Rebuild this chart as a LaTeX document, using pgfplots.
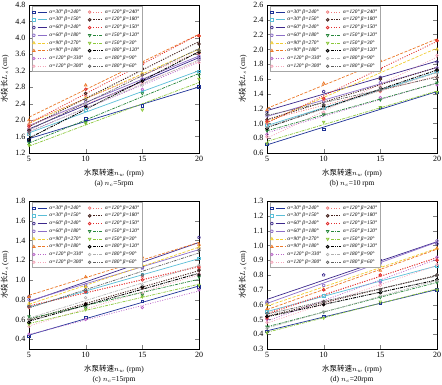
\documentclass[border=0pt]{standalone}
\usepackage{fontspec}
\setmainfont{Liberation Serif}
\newfontfamily\cjk{Noto Sans CJK SC}
\usepackage{pgfplots}
\usepackage{pgfplotstable}
\pgfplotsset{compat=1.18}

\definecolor{c1}{RGB}{30,50,150}
\definecolor{c2}{RGB}{90,190,215}
\definecolor{c3}{RGB}{60,40,140}
\definecolor{c4}{RGB}{140,110,200}
\definecolor{c5}{RGB}{240,205,50}
\definecolor{c6}{RGB}{235,120,40}
\definecolor{c7}{RGB}{185,100,200}
\definecolor{c8}{RGB}{245,165,185}
\definecolor{c9}{RGB}{240,120,120}
\definecolor{c10}{RGB}{70,35,30}
\definecolor{c11}{RGB}{225,45,45}
\definecolor{c12}{RGB}{40,135,60}
\definecolor{c13}{RGB}{140,200,60}
\definecolor{c14}{RGB}{0,0,0}
\definecolor{c15}{RGB}{175,175,175}
\definecolor{c16}{RGB}{95,95,95}

\pgfplotstableread{
x  s1   s2   s3   s4   s5   s6   s7   s8   s9   s10  s11  s12  s13  s14  s15  s16
5  1.52 1.65 1.78 1.85 1.90 2.00 1.72 1.80 1.90 1.75 1.85 1.45 1.39 1.52 1.65 1.70
10 2.03 2.25 2.35 2.45 2.55 2.85 2.35 2.50 2.60 2.65 2.75 1.95 1.92 2.33 2.40 2.50
15 2.35 2.70 2.98 3.00 3.15 3.42 2.75 2.90 3.10 3.25 3.36 2.65 2.25 2.95 2.85 3.10
20 2.81 3.18 3.50 3.55 3.70 4.05 3.46 3.40 3.62 3.85 4.05 3.10 3.00 3.65 3.45 3.70
}\tabA
\pgfplotstableread{
x  s1   s2   s3   s4   s5   s6   s7   s8   s9   s10  s11  s12  s13  s14  s15  s16
5  0.72 0.98 1.15 1.10 1.02 1.18 0.85 0.82 1.00 1.05 1.03 0.90 0.73 0.93 0.95 1.12
10 0.92 1.20 1.43 1.30 1.33 1.54 1.12 1.15 1.32 1.25 1.34 1.12 1.02 1.23 1.20 1.25
15 1.22 1.45 1.62 1.55 1.72 1.85 1.35 1.50 1.43 1.60 1.74 1.32 1.22 1.45 1.45 1.48
20 1.42 1.70 1.83 1.75 2.00 2.12 1.52 1.92 1.62 1.72 2.12 1.55 1.42 1.72 1.68 1.62
}\tabB
\pgfplotstableread{
x  s1   s2   s3   s4   s5   s6   s7   s8   s9   s10  s11  s12  s13  s14  s15  s16
5  0.43 0.73 0.83 0.80 0.76 0.83 0.45 0.53 0.72 0.60 0.73 0.63 0.55 0.57 0.60 0.73
10 0.62 0.88 0.93 0.95 0.93 1.03 0.60 0.72 0.88 0.76 0.88 0.72 0.70 0.75 0.82 0.90
15 0.78 1.05 1.13 1.12 1.15 1.23 0.72 0.86 1.03 0.92 1.00 0.85 0.83 0.93 0.95 1.05
20 0.93 1.22 1.43 1.32 1.33 1.36 0.90 1.06 1.12 1.10 1.13 1.03 0.95 1.05 1.15 1.30
}\tabC
\pgfplotstableread{
x  s1   s2   s3   s4   s5   s6   s7   s8   s9   s10  s11  s12  s13  s14  s15  s16
5  0.42 0.55 0.61 0.62 0.60 0.57 0.50 0.48 0.52 0.52 0.51 0.45 0.41 0.52 0.44 0.54
10 0.52 0.66 0.80 0.73 0.70 0.70 0.62 0.60 0.70 0.62 0.70 0.55 0.51 0.60 0.55 0.62
15 0.61 0.76 0.90 0.88 0.86 0.83 0.75 0.73 0.80 0.70 0.80 0.65 0.62 0.68 0.66 0.70
20 0.70 0.86 1.01 1.03 0.98 0.98 0.92 0.87 0.90 0.80 0.90 0.75 0.70 0.77 0.76 0.80
}\tabD

\pgfplotsset{
  legend image code/.code={%
    \draw[#1,mark=none] (0.13cm,0cm) -- (0.46cm,0cm);
    \draw[#1] plot[only marks] coordinates {(0cm,0cm)};
  },
  s1/.style={color=c1, solid, line width=0.7pt, mark=square, mark size=1.2pt, mark options={solid}},
  s2/.style={color=c2, solid, line width=0.7pt, mark=square, mark size=1.2pt, mark options={solid}},
  s3/.style={color=c3, solid, line width=0.7pt, mark=pentagon, mark size=1.4pt, mark options={solid}},
  s4/.style={color=c4, solid, line width=0.7pt, mark=pentagon, mark size=1.4pt, mark options={solid}},
  s5/.style={color=c5, dash pattern=on 3pt off 1.5pt, line width=0.7pt, mark=triangle, mark size=1.5pt, mark options={solid}},
  s6/.style={color=c6, dash pattern=on 3pt off 1.5pt, line width=0.7pt, mark=triangle, mark size=1.5pt, mark options={solid}},
  s7/.style={color=c7, dash pattern=on 1pt off 1.5pt, line width=0.7pt, mark=o, mark size=1.3pt, mark options={solid}},
  s8/.style={color=c8, dash pattern=on 1pt off 1.5pt, line width=0.7pt, mark=o, mark size=1.3pt, mark options={solid}},
  s9/.style={color=c9, dash pattern=on 1pt off 1.5pt, line width=0.7pt, mark=o, mark size=1.3pt, mark options={solid}},
  s10/.style={color=c10, dash pattern=on 1.2pt off 1.3pt, line width=0.9pt, mark=o, mark size=1.3pt, mark options={solid}},
  s11/.style={color=c11, dash pattern=on 1pt off 1.5pt, line width=0.8pt, mark=o, mark size=1.3pt, mark options={solid}},
  s12/.style={color=c12, dash pattern=on 3pt off 1pt on 1pt off 1pt, line width=0.7pt, mark=triangle, mark size=1.5pt, mark options={solid,rotate=180}},
  s13/.style={color=c13, dash pattern=on 3pt off 1pt on 1pt off 1pt, line width=0.7pt, mark=triangle, mark size=1.5pt, mark options={solid,rotate=180}},
  s14/.style={color=c14, dash pattern=on 3pt off 1pt on 1pt off 1pt on 1pt off 1pt, line width=0.9pt, mark=o, mark size=1.3pt, mark options={solid}},
  s15/.style={color=c15, dash pattern=on 3pt off 1pt on 1pt off 1pt, line width=0.6pt, mark=o, mark size=1.3pt, mark options={solid}},
  s16/.style={color=c16, dash pattern=on 3pt off 1pt on 1pt off 1pt on 1pt off 1pt, line width=0.7pt, mark=o, mark size=1.3pt, mark options={solid}},
  panel/.style={
    scale only axis, width=170pt, height=148pt,
    xmin=5, xmax=20, xtick={5,10,15,20},
    tick align=inside,
    /pgf/number format/assume math mode=true,
    tick label style={font=\fontsize{8}{8.5}\selectfont},
    yticklabel style={/pgf/number format/.cd, fixed, fixed zerofill, precision=1},
    label style={font=\fontsize{7.5}{10}\selectfont},
    xlabel style={align=center},
    axis line style={line width=0.5pt},
    legend columns=8, transpose legend,
    legend cell align=left,
    legend style={at={(0.015,0.99)}, anchor=north west, draw=gray!70,
      font=\fontsize{5.3}{5.6}\selectfont\itshape, inner sep=0.8pt, row sep=-1.5pt,
      /tikz/column 2/.style={column sep=3pt}},
    legend entries={α=30° β=240°, α=30° β=150°, α=60° β=240°, α=60° β=180°,
      α=90° β=270°, α=90° β=180°, α=120° β=330°, α=120° β=300°,
      α=120° β=240°, α=120° β=180°, α=120° β=150°, α=150° β=120°,
      α=150° β=30°, α=180° β=120°, α=180° β=90°, α=180° β=60°},
    ylabel={{\cjk 水段长}$L_s$ (cm)},
  },
}

\newcommand{\drawall}[1]{%
  \addlegendimage{s1}\addlegendimage{s2}\addlegendimage{s3}\addlegendimage{s4}
  \addlegendimage{s5}\addlegendimage{s6}\addlegendimage{s7}\addlegendimage{s8}
  \addlegendimage{s9}\addlegendimage{s10}\addlegendimage{s11}\addlegendimage{s12}
  \addlegendimage{s13}\addlegendimage{s14}\addlegendimage{s15}\addlegendimage{s16}
  \pgfplotsinvokeforeach{1,...,16}{
    \addplot[s##1, mark=none, forget plot] table[x=x, y={create col/linear regression={y=s##1}}] {#1};
    \addplot[s##1, only marks, forget plot] table[x=x, y=s##1] {#1};
  }%
}

\begin{document}
\begin{tikzpicture}
\path[use as bounding box] (0,0) rectangle (442pt,-385pt);
\begin{axis}[panel, at={(29pt,-153pt)}, anchor=south west,
  ymin=1.2, ymax=4.8, ytick={1.2,1.6,...,4.8},
  xlabel={{\cjk 水泵转速}$n_w$ (rpm)\\(a) $n_c$=5rpm}]
\drawall{\tabA}
\end{axis}
\begin{axis}[panel, at={(267pt,-153pt)}, anchor=south west,
  ymin=0.6, ymax=2.6, ytick={0.6,0.8,...,2.61},
  xlabel={{\cjk 水泵转速}$n_w$ (rpm)\\(b) $n_c$=10 rpm}]
\drawall{\tabB}
\end{axis}
\begin{axis}[panel, at={(29pt,-349pt)}, anchor=south west,
  ymin=0.3, ymax=1.8, ytick={0.4,0.6,...,1.81},
  xlabel={{\cjk 水泵转速}$n_w$ (rpm)\\(c) $n_c$=15rpm}]
\drawall{\tabC}
\end{axis}
\begin{axis}[panel, at={(267pt,-349pt)}, anchor=south west,
  ymin=0.3, ymax=1.3, ytick={0.3,0.4,...,1.31},
  xlabel={{\cjk 水泵转速}$n_w$ (rpm)\\(d) $n_c$=20rpm}]
\drawall{\tabD}
\end{axis}
\end{tikzpicture}
\end{document}
